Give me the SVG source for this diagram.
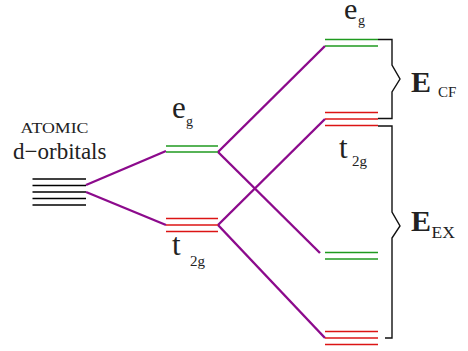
<svg xmlns="http://www.w3.org/2000/svg" width="468" height="351" viewBox="0 0 468 351">
<style>
text{font-family:'Liberation Serif','Times New Roman','DejaVu Serif',serif;fill:#222}
.b{font-weight:bold}
.k{stroke:#000;stroke-width:1.4}
.g{stroke:#1f9a1f;stroke-width:1.6}
.r{stroke:#dc1414;stroke-width:1.6}
.p{stroke:#8c0a8c;stroke-width:2.4;fill:none}
.br{stroke:#111;stroke-width:1.4;fill:none}
</style>
<rect width="468" height="351" fill="#fff"/>
<g id="atomic">
<text x="20.5" y="133" font-size="15" textLength="68" lengthAdjust="spacingAndGlyphs">ATOMIC</text>
<text x="13" y="159" font-size="23">d−orbitals</text>
<line class="k" x1="32.5" y1="179" x2="86" y2="179"/>
<line class="k" x1="32.5" y1="185.5" x2="86" y2="185.5"/>
<line class="k" x1="32.5" y1="192" x2="86" y2="192"/>
<line class="k" x1="32.5" y1="198.5" x2="86" y2="198.5"/>
<line class="k" x1="32.5" y1="205" x2="86" y2="205"/>
</g>
<g id="connectors">
<polyline class="p" points="86,185 166,151"/>
<polyline class="p" points="86,192 166,225"/>
<polyline class="p" points="218,152 325,46"/>
<polyline class="p" points="218,152 320,253"/>
<polyline class="p" points="218,225 325,119"/>
<polyline class="p" points="218,225 325,338"/>
</g>
<g id="eg-mid">
<line class="g" x1="166" y1="146" x2="218" y2="146"/>
<line class="g" x1="166" y1="152" x2="218" y2="152"/>
<text x="172" y="118" font-size="31">e</text>
<text x="186" y="126" font-size="14">g</text>
</g>
<g id="t2g-mid">
<line class="r" x1="166" y1="218.5" x2="218" y2="218.5"/>
<line class="r" x1="166" y1="225" x2="218" y2="225" stroke="#a0102a"/>
<line class="r" x1="166" y1="231.5" x2="218" y2="231.5"/>
<text x="172" y="255" font-size="31">t</text>
<text x="190" y="266" font-size="15">2g</text>
</g>
<g id="eg-top">
<line class="g" x1="325" y1="39.5" x2="378" y2="39.5"/>
<line class="g" x1="325" y1="46" x2="378" y2="46"/>
<text x="344" y="19" font-size="30">e</text>
<text x="358" y="25" font-size="14">g</text>
</g>
<g id="t2g-top">
<line class="r" x1="325" y1="112.5" x2="378" y2="112.5"/>
<line class="r" x1="325" y1="119" x2="378" y2="119"/>
<line class="r" x1="325" y1="125.5" x2="378" y2="125.5"/>
<text x="339" y="158" font-size="31">t</text>
<text x="352" y="166" font-size="15">2g</text>
</g>
<g id="eg-low">
<line class="g" x1="325" y1="252.5" x2="378" y2="252.5"/>
<line class="g" x1="325" y1="259" x2="378" y2="259"/>
</g>
<g id="t2g-low">
<line class="r" x1="325" y1="331.5" x2="378" y2="331.5"/>
<line class="r" x1="325" y1="338" x2="378" y2="338"/>
<line class="r" x1="325" y1="344.5" x2="378" y2="344.5"/>
</g>
<g id="brace-cf">
<path class="br" d="M378,39.5 H392 V65 L400,79 L392,92 V118.5 H378"/>
<text class="b" x="411" y="92" font-size="30">E</text>
<text x="438" y="97" font-size="15">CF</text>
</g>
<g id="brace-ex">
<path class="br" d="M378,126 H392 V212 L400,226 L392,238 V338 H385"/>
<text class="b" x="411" y="231" font-size="30">E</text>
<text x="431.5" y="238" font-size="17.5">EX</text>
</g>
</svg>
